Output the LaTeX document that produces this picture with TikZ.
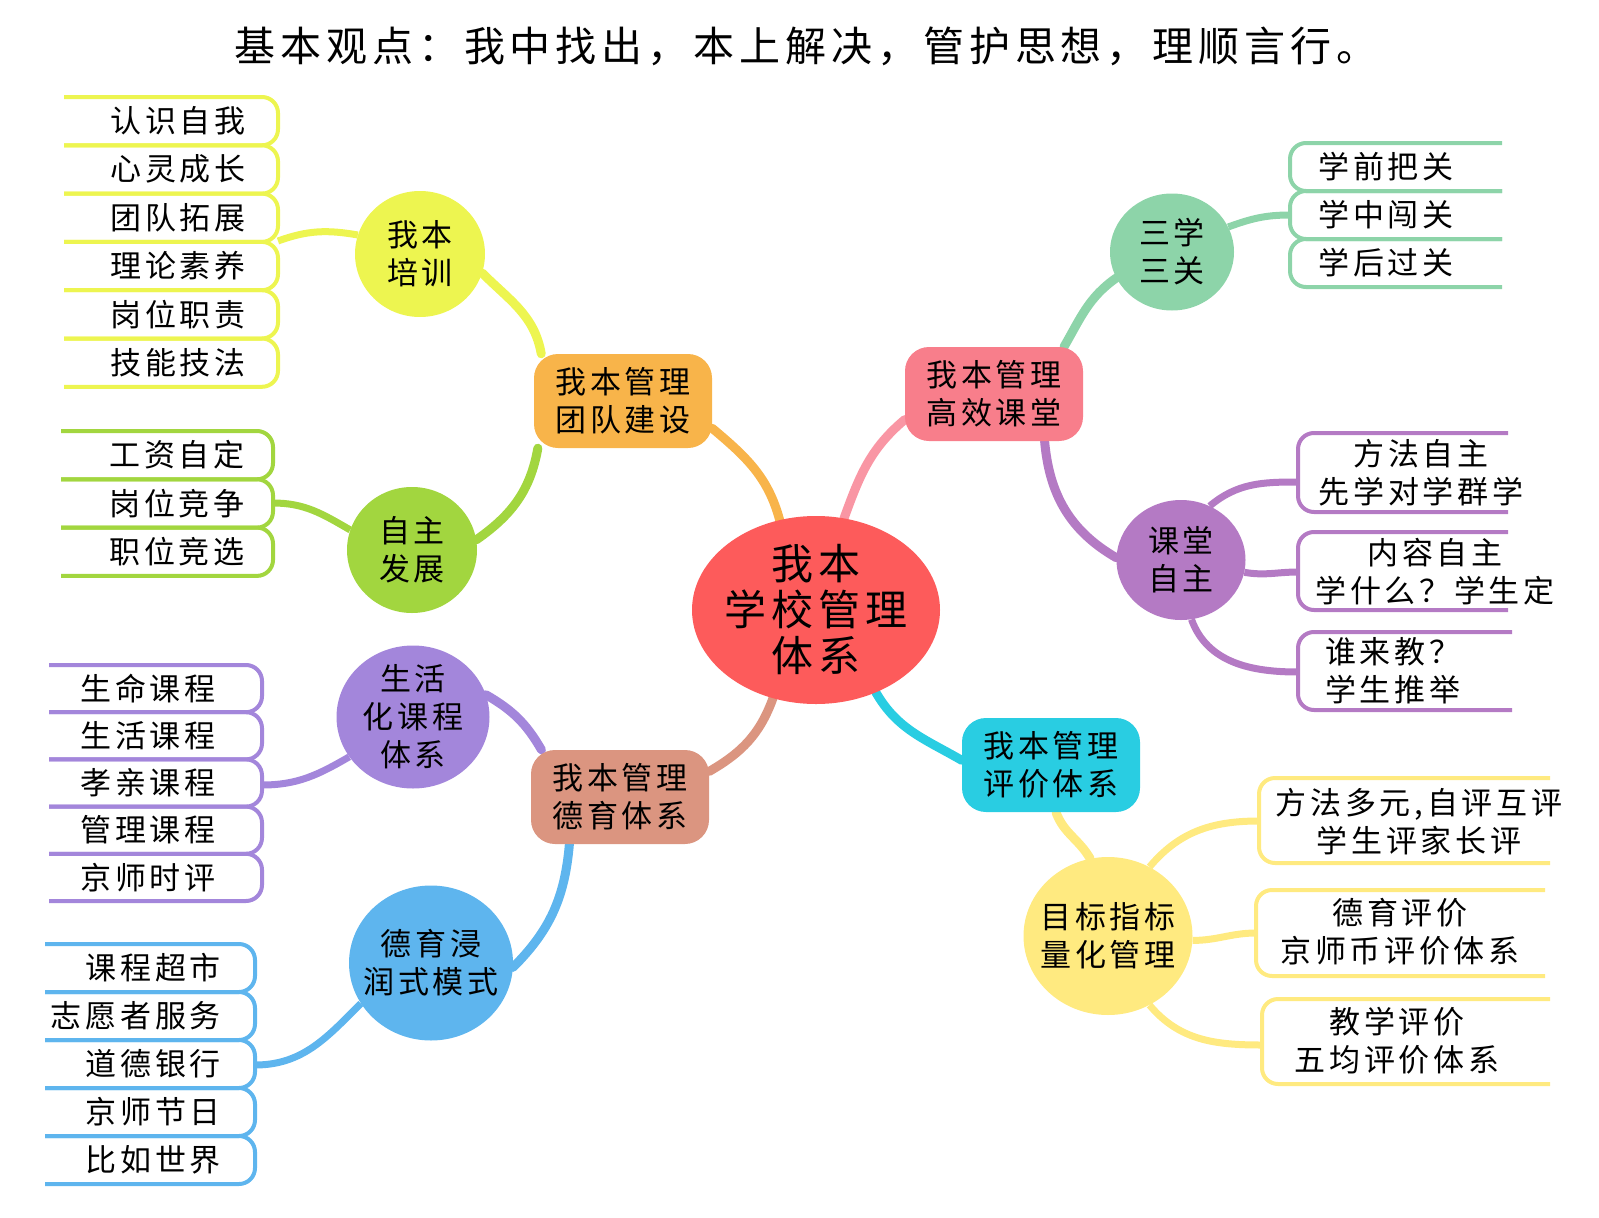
\documentclass[tikz,border=0pt]{standalone}
\usepackage{fontspec}
\setmainfont{Noto Sans CJK SC}[LetterSpace=12]
\usetikzlibrary{shapes.geometric, backgrounds}

\definecolor{cMid}{HTML}{FD5B5B}
\definecolor{cTeam}{HTML}{F8B44A}
\definecolor{cClass}{HTML}{F87E8B}
\definecolor{cClassLink}{HTML}{F996A4}
\definecolor{cMoral}{HTML}{DB9580}
\definecolor{cEval}{HTML}{29CDE2}
\definecolor{cTrain}{HTML}{EDF550}
\definecolor{cSelf}{HTML}{A2D63F}
\definecolor{cThree}{HTML}{8DD4A9}
\definecolor{cAuto}{HTML}{B47AC4}
\definecolor{cLife}{HTML}{A386DB}
\definecolor{cSoak}{HTML}{5EB5EE}
\definecolor{cGoal}{HTML}{FFEA80}

\newcommand\mmfont{\fontsize{31}{38}\selectfont}
\newcommand\mmhub{\fontsize{42}{46}\selectfont}
\newcommand\mmtitle{\fontsize{41}{48}\selectfont}

\begin{document}
\begin{tikzpicture}[
  x=1pt, y=-1pt,
  hub/.style={ellipse, fill=cMid, minimum width=248pt, minimum height=188pt, inner sep=0pt},
  branch/.style={rounded corners=24pt, minimum width=178pt, minimum height=94pt, align=center, font=\mmfont},
  bub/.style={ellipse, inner sep=0pt},
  txt/.style={align=center, font=\mmfont},
  leafbox/.style={line width=4pt, rounded corners=16pt},
  leaftxt/.style={font=\mmfont, inner sep=0pt},
  link/.style={line width=9pt, line cap=round},
  twig/.style={line width=7pt}
]
\useasboundingbox (0,0) rectangle (1599,1218);

\node[font=\mmtitle] (title) at (806,46) {基本观点：我中找出，本上解决，管护思想，理顺言行。};

% centre and main branches
\node[hub] (mid) at (816,610) {};
\node[align=center, font=\mmhub] (mid-t) at (mid) {我本\\学校管理\\体系};
\node[branch, fill=cTeam] (team) at (623,401) {我本管理\\团队建设};
\node[branch, fill=cClass] (class) at (994,394) {我本管理\\高效课堂};
\node[branch, fill=cMoral] (moral) at (620,797) {我本管理\\德育体系};
\node[branch, fill=cEval] (eval) at (1051,765) {我本管理\\评价体系};

% second level
\node[bub, fill=cTrain, minimum width=130pt, minimum height=126pt] (train) at (420,254) {};
\node[txt] (train-t) at (train) {我本\\培训};
\node[bub, fill=cSelf, minimum width=130pt, minimum height=126pt] (self) at (412,550) {};
\node[txt] (self-t) at (self) {自主\\发展};
\node[bub, fill=cThree, minimum width=124pt, minimum height=117pt] (three) at (1172,252) {};
\node[txt] (three-t) at (three) {三学\\三关};
\node[bub, fill=cAuto, minimum width=129pt, minimum height=120pt] (auto) at (1181,560) {};
\node[txt] (auto-t) at (auto) {课堂\\自主};
\node[bub, fill=cLife, minimum width=153pt, minimum height=143pt] (life) at (413,717) {};
\node[txt] (life-t) at (life) {生活\\化课程\\体系};
\node[bub, fill=cSoak, minimum width=164pt, minimum height=155pt] (soak) at (431,963) {};
\node[txt] (soak-t) at (soak) {德育浸\\润式模式};
\node[bub, fill=cGoal, minimum width=169pt, minimum height=158pt] (goal) at (1108,936) {};
\node[txt] (goal-t) at (goal) {目标指标\\量化管理};

% leaves
\foreach \t [count=\i] in {认识自我,心灵成长,团队拓展,理论素养,岗位职责,技能技法} {
  \pgfmathsetmacro{\yt}{97+48.3*(\i-1)}
  \draw[leafbox, cTrain] (64,\yt) -- (278,\yt) -- (278,\yt+48.3) -- (64,\yt+48.3);
  \node[leaftxt] (a\i) at (178,\yt+24) {\t};
}
\foreach \t [count=\i] in {工资自定,岗位竞争,职位竞选} {
  \pgfmathsetmacro{\yt}{431+48.3*(\i-1)}
  \draw[leafbox, cSelf] (61,\yt) -- (273,\yt) -- (273,\yt+48.3) -- (61,\yt+48.3);
  \node[leaftxt] (b\i) at (177,\yt+24) {\t};
}
\foreach \t [count=\i] in {学前把关,学中闯关,学后过关} {
  \pgfmathsetmacro{\yt}{143+48*(\i-1)}
  \draw[leafbox, cThree] (1502,\yt) -- (1290,\yt) -- (1290,\yt+48) -- (1502,\yt+48);
  \node[leaftxt] (c\i) at (1386,\yt+24) {\t};
}
\draw[leafbox, cAuto] (1508,433) -- (1298,433) -- (1298,512) -- (1508,512);
\node[leaftxt, align=center] (d1) at (1421,473) {方法自主\\先学对学群学};
\draw[leafbox, cAuto] (1508,532) -- (1298,532) -- (1298,610) -- (1508,610);
\node[leaftxt, align=center] (d2) at (1435,572) {内容自主\\学什么？学生定};
\draw[leafbox, cAuto] (1512,632) -- (1298,632) -- (1298,710) -- (1512,710);
\node[leaftxt, align=left, anchor=west] (d3) at (1325,671) {谁来教？\\学生推举};
\foreach \t [count=\i] in {生命课程,生活课程,孝亲课程,管理课程,京师时评} {
  \pgfmathsetmacro{\yt}{665+47.2*(\i-1)}
  \draw[leafbox, cLife] (49,\yt) -- (262,\yt) -- (262,\yt+47.2) -- (49,\yt+47.2);
  \node[leaftxt] (e\i) at (148,\yt+23.5) {\t};
}
\foreach \t [count=\i] in {课程超市,志愿者服务,道德银行,京师节日,比如世界} {
  \pgfmathsetmacro{\yt}{944+48*(\i-1)}
  \draw[leafbox, cSoak] (45,\yt) -- (255,\yt) -- (255,\yt+48) -- (45,\yt+48);
  \node[leaftxt, anchor=east] (f\i) at (221,\yt+24) {\t};
}
\draw[leafbox, cGoal] (1550,778) -- (1259,778) -- (1259,863) -- (1550,863);
\node[leaftxt, align=center] (g1) at (1419,822) {方法多元,自评互评\\学生评家长评};
\draw[leafbox, cGoal] (1545,890) -- (1256,890) -- (1256,976) -- (1545,976);
\node[leaftxt, align=center] (g2) at (1400,932) {德育评价\\京师币评价体系};
\draw[leafbox, cGoal] (1550,999) -- (1262,999) -- (1262,1084) -- (1550,1084);
\node[leaftxt, align=center] (g3) at (1397,1041) {教学评价\\五均评价体系};

\coordinate (aA) at (278,241);
\coordinate (aB) at (273,503);
\coordinate (aC) at (1290,215);
\coordinate (aD1) at (1298,482);
\coordinate (aD2) at (1298,572);
\coordinate (aD3) at (1298,672);
\coordinate (aE) at (262,785);
\coordinate (aF) at (255,1065);
\coordinate (aG1) at (1259,821);
\coordinate (aG2) at (1256,933);
\coordinate (aG3) at (1262,1045);

\begin{scope}[on background layer]
\draw[link, cTeam] (mid.112) to[out=105, in=-40] (team.-17);
\draw[link, cTrain] (team.150) to[out=100, in=-45] (train.-17);
\draw[link, cSelf] (team.209) to[out=260, in=35] (self.9);
\draw[link, cClassLink] (mid.73) to[out=70, in=220] (class.196);
\draw[link, cThree] (class.34) to[out=60, in=215] (three.205);
\draw[link, cAuto] (class.-43) to[out=275, in=150] (auto.178);
\draw[link, cMoral] (mid.244) to[out=250, in=30] (moral.16);
\draw[link, cLife] (moral.149) to[out=120, in=-30] (life.17);
\draw[link, cSoak] (moral.223) to[out=265, in=45] (soak.-3);
\draw[link, cEval] (mid.306) to[out=300, in=150] (eval.177);
\draw[link, cGoal] (eval.276) to[out=290, in=120] (goal.103);

\draw[twig, cTrain] (train.163) to[out=170, in=20] (aA);
\draw[twig, cSelf] (self.162) to[out=150, in=0] (aB);
\draw[twig, cThree] (three.24) to[out=20, in=180] (aC);
\draw[twig, cAuto] (auto.62) to[out=40, in=180] (aD1);
\draw[twig, cAuto] (auto.-11) to[out=-10, in=180] (aD2);
\draw[twig, cAuto] (auto.280) to[out=-70, in=180] (aD3);
\draw[twig, cLife] (life.212) to[out=210, in=0] (aE);
\draw[twig, cSoak] (soak.210) to[out=225, in=0] (aF);
\draw[twig, cGoal] (goal.59) to[out=50, in=180] (aG1);
\draw[twig, cGoal] (goal.-3) to[out=0, in=180] (aG2);
\draw[twig, cGoal] (goal.-59) to[out=-50, in=180] (aG3);
\end{scope}
\end{tikzpicture}
\end{document}
